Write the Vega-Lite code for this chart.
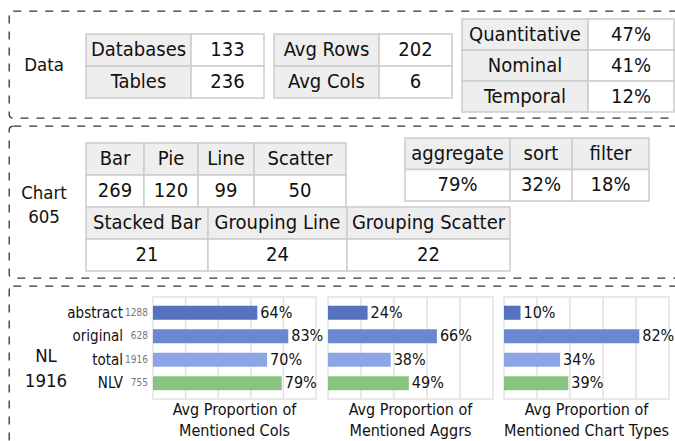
{
  "$schema": "https://vega.github.io/schema/vega-lite/v6.json",
  "padding": {"left": 8, "top": 10, "right": 0, "bottom": 0},
  "config": {
    "font": "DejaVu Sans Condensed",
    "view": {"stroke": "#333333", "strokeWidth": 1.3, "strokeDash": [8, 8], "cornerRadius": 4},
    "text": {"color": "#111111"},
    "rect": {"stroke": "#cccccc", "strokeWidth": 1.5}
  },
  "datasets": {
    "sections": [
      {"section": "Data", "label": "Data"},
      {"section": "Chart", "label": "Chart\n605"},
      {"section": "NL", "label": "NL\n1916"}
    ],
    "dataCounts": [
      {"table": "tables", "label": "Databases", "value": 133},
      {"table": "tables", "label": "Tables", "value": 236},
      {"table": "shape", "label": "Avg Rows", "value": 202},
      {"table": "shape", "label": "Avg Cols", "value": 6}
    ],
    "columnTypes": [
      {"table": "types", "label": "Quantitative", "share": 0.47},
      {"table": "types", "label": "Nominal", "share": 0.41},
      {"table": "types", "label": "Temporal", "share": 0.12}
    ],
    "chartTypes": [
      {"type": "Bar", "count": 269},
      {"type": "Pie", "count": 120},
      {"type": "Line", "count": 99},
      {"type": "Scatter", "count": 50},
      {"type": "Stacked Bar", "count": 21},
      {"type": "Grouping Line", "count": 24},
      {"type": "Grouping Scatter", "count": 22}
    ],
    "operations": [
      {"op": "aggregate", "share": 0.79},
      {"op": "sort", "share": 0.32},
      {"op": "filter", "share": 0.18}
    ],
    "charts": [
      {"metric": "Cols", "title": "Avg Proportion of\nMentioned Cols"},
      {"metric": "Aggrs", "title": "Avg Proportion of\nMentioned Aggrs"},
      {"metric": "Chart Types", "title": "Avg Proportion of\nMentioned Chart Types"}
    ],
    "gridlines": [
      {"tick": 0.2},
      {"tick": 0.4},
      {"tick": 0.6},
      {"tick": 0.8}
    ],
    "nl": [
      {"metric": "Cols", "split": "abstract", "n": 1288, "value": 0.64},
      {"metric": "Cols", "split": "original", "n": 628, "value": 0.83},
      {"metric": "Cols", "split": "total", "n": 1916, "value": 0.70},
      {"metric": "Cols", "split": "NLV", "n": 755, "value": 0.79},
      {"metric": "Aggrs", "split": "abstract", "n": 1288, "value": 0.24},
      {"metric": "Aggrs", "split": "original", "n": 628, "value": 0.66},
      {"metric": "Aggrs", "split": "total", "n": 1916, "value": 0.38},
      {"metric": "Aggrs", "split": "NLV", "n": 755, "value": 0.49},
      {"metric": "Chart Types", "split": "abstract", "n": 1288, "value": 0.10},
      {"metric": "Chart Types", "split": "original", "n": 628, "value": 0.82},
      {"metric": "Chart Types", "split": "total", "n": 1916, "value": 0.34},
      {"metric": "Chart Types", "split": "NLV", "n": 755, "value": 0.39}
    ]
  },
  "spacing": 6,
  "vconcat": [
    {
      "width": 680,
      "height": 107,
      "layer": [
        {
          "data": {"name": "sections"},
          "transform": [{"filter": "datum.section === 'Data'"}],
          "mark": {"type": "text", "fontSize": 18.5, "lineBreak": "\n", "lineHeight": 24},
          "encoding": {
            "x": {"field": "section", "type": "nominal", "axis": null, "scale": {"range": [0, 70]}},
            "y": {"field": "section", "type": "nominal", "axis": null, "scale": {"range": [34, 74]}},
            "text": {"field": "label", "type": "nominal"}
          }
        },
        {
          "data": {"name": "dataCounts"},
          "transform": [{"filter": "datum.table === 'tables'"}],
          "encoding": {"y": {"field": "label", "type": "nominal", "sort": null, "axis": null, "scale": {"range": [23, 87]}}},
          "layer": [
            {
              "encoding": {"x": {"field": "table", "type": "nominal", "axis": null, "scale": {"range": [77, 182]}}},
              "layer": [
                {"mark": {"type": "rect", "fill": "#eeeeee"}},
                {"mark": {"type": "text", "fontSize": 20}, "encoding": {"text": {"field": "label", "type": "nominal"}}}
              ]
            },
            {
              "encoding": {"x": {"field": "table", "type": "nominal", "axis": null, "scale": {"range": [182, 255]}}},
              "layer": [
                {"mark": {"type": "rect", "fill": "#ffffff"}},
                {"mark": {"type": "text", "fontSize": 20}, "encoding": {"text": {"field": "value", "type": "nominal"}}}
              ]
            }
          ],
          "resolve": {"scale": {"x": "independent"}}
        },
        {
          "data": {"name": "dataCounts"},
          "transform": [{"filter": "datum.table === 'shape'"}],
          "encoding": {"y": {"field": "label", "type": "nominal", "sort": null, "axis": null, "scale": {"range": [23, 87]}}},
          "layer": [
            {
              "encoding": {"x": {"field": "table", "type": "nominal", "axis": null, "scale": {"range": [265, 370]}}},
              "layer": [
                {"mark": {"type": "rect", "fill": "#eeeeee"}},
                {"mark": {"type": "text", "fontSize": 20}, "encoding": {"text": {"field": "label", "type": "nominal"}}}
              ]
            },
            {
              "encoding": {"x": {"field": "table", "type": "nominal", "axis": null, "scale": {"range": [370, 443]}}},
              "layer": [
                {"mark": {"type": "rect", "fill": "#ffffff"}},
                {"mark": {"type": "text", "fontSize": 20}, "encoding": {"text": {"field": "value", "type": "nominal"}}}
              ]
            }
          ],
          "resolve": {"scale": {"x": "independent"}}
        },
        {
          "data": {"name": "columnTypes"},
          "encoding": {"y": {"field": "label", "type": "nominal", "sort": null, "axis": null, "scale": {"range": [8, 101]}}},
          "layer": [
            {
              "encoding": {"x": {"field": "table", "type": "nominal", "axis": null, "scale": {"range": [453, 579]}}},
              "layer": [
                {"mark": {"type": "rect", "fill": "#eeeeee"}},
                {"mark": {"type": "text", "fontSize": 20}, "encoding": {"text": {"field": "label", "type": "nominal"}}}
              ]
            },
            {
              "encoding": {"x": {"field": "table", "type": "nominal", "axis": null, "scale": {"range": [579, 665]}}},
              "layer": [
                {"mark": {"type": "rect", "fill": "#ffffff"}},
                {"mark": {"type": "text", "fontSize": 20}, "encoding": {"text": {"field": "share", "type": "quantitative", "format": ".0%"}}}
              ]
            }
          ],
          "resolve": {"scale": {"x": "independent"}}
        }
      ],
      "resolve": {"scale": {"x": "independent", "y": "independent"}}
    },
    {
      "width": 680,
      "height": 152,
      "layer": [
        {
          "data": {"name": "sections"},
          "transform": [{"filter": "datum.section === 'Chart'"}],
          "mark": {"type": "text", "fontSize": 18.5, "lineBreak": "\n", "lineHeight": 24},
          "encoding": {
            "x": {"field": "section", "type": "nominal", "axis": null, "scale": {"range": [0, 70]}},
            "y": {"field": "section", "type": "nominal", "axis": null, "scale": {"range": [47, 87]}},
            "text": {"field": "label", "type": "nominal"}
          }
        },
        {
          "data": {"name": "chartTypes"},
          "layer": [
            {
              "transform": [{"filter": "datum.type === 'Bar'"}],
              "encoding": {"x": {"field": "type", "type": "nominal", "axis": null, "scale": {"range": [77, 135]}}},
              "layer": [
                {"encoding": {"y": {"datum": "name", "type": "nominal", "axis": null, "scale": {"domain": ["name", "count"], "range": [17, 81]}}},
                 "layer": [{"mark": {"type": "rect", "fill": "#eeeeee"}}, {"mark": {"type": "text", "fontSize": 20}, "encoding": {"text": {"field": "type", "type": "nominal"}}}]},
                {"encoding": {"y": {"datum": "count", "type": "nominal", "axis": null, "scale": {"domain": ["name", "count"], "range": [17, 81]}}},
                 "layer": [{"mark": {"type": "rect", "fill": "#ffffff"}}, {"mark": {"type": "text", "fontSize": 20}, "encoding": {"text": {"field": "count", "type": "nominal"}}}]}
              ]
            },
            {
              "transform": [{"filter": "datum.type === 'Pie'"}],
              "encoding": {"x": {"field": "type", "type": "nominal", "axis": null, "scale": {"range": [135, 189]}}},
              "layer": [
                {"encoding": {"y": {"datum": "name", "type": "nominal", "axis": null, "scale": {"domain": ["name", "count"], "range": [17, 81]}}},
                 "layer": [{"mark": {"type": "rect", "fill": "#eeeeee"}}, {"mark": {"type": "text", "fontSize": 20}, "encoding": {"text": {"field": "type", "type": "nominal"}}}]},
                {"encoding": {"y": {"datum": "count", "type": "nominal", "axis": null, "scale": {"domain": ["name", "count"], "range": [17, 81]}}},
                 "layer": [{"mark": {"type": "rect", "fill": "#ffffff"}}, {"mark": {"type": "text", "fontSize": 20}, "encoding": {"text": {"field": "count", "type": "nominal"}}}]}
              ]
            },
            {
              "transform": [{"filter": "datum.type === 'Line'"}],
              "encoding": {"x": {"field": "type", "type": "nominal", "axis": null, "scale": {"range": [189, 245]}}},
              "layer": [
                {"encoding": {"y": {"datum": "name", "type": "nominal", "axis": null, "scale": {"domain": ["name", "count"], "range": [17, 81]}}},
                 "layer": [{"mark": {"type": "rect", "fill": "#eeeeee"}}, {"mark": {"type": "text", "fontSize": 20}, "encoding": {"text": {"field": "type", "type": "nominal"}}}]},
                {"encoding": {"y": {"datum": "count", "type": "nominal", "axis": null, "scale": {"domain": ["name", "count"], "range": [17, 81]}}},
                 "layer": [{"mark": {"type": "rect", "fill": "#ffffff"}}, {"mark": {"type": "text", "fontSize": 20}, "encoding": {"text": {"field": "count", "type": "nominal"}}}]}
              ]
            },
            {
              "transform": [{"filter": "datum.type === 'Scatter'"}],
              "encoding": {"x": {"field": "type", "type": "nominal", "axis": null, "scale": {"range": [245, 337]}}},
              "layer": [
                {"encoding": {"y": {"datum": "name", "type": "nominal", "axis": null, "scale": {"domain": ["name", "count"], "range": [17, 81]}}},
                 "layer": [{"mark": {"type": "rect", "fill": "#eeeeee"}}, {"mark": {"type": "text", "fontSize": 20}, "encoding": {"text": {"field": "type", "type": "nominal"}}}]},
                {"encoding": {"y": {"datum": "count", "type": "nominal", "axis": null, "scale": {"domain": ["name", "count"], "range": [17, 81]}}},
                 "layer": [{"mark": {"type": "rect", "fill": "#ffffff"}}, {"mark": {"type": "text", "fontSize": 20}, "encoding": {"text": {"field": "count", "type": "nominal"}}}]}
              ]
            }
          ],
          "resolve": {"scale": {"x": "independent"}}
        },
        {
          "data": {"name": "chartTypes"},
          "layer": [
            {
              "transform": [{"filter": "datum.type === 'Stacked Bar'"}],
              "encoding": {"x": {"field": "type", "type": "nominal", "axis": null, "scale": {"range": [77, 199]}}},
              "layer": [
                {"encoding": {"y": {"datum": "name", "type": "nominal", "axis": null, "scale": {"domain": ["name", "count"], "range": [81, 145]}}},
                 "layer": [{"mark": {"type": "rect", "fill": "#eeeeee"}}, {"mark": {"type": "text", "fontSize": 20}, "encoding": {"text": {"field": "type", "type": "nominal"}}}]},
                {"encoding": {"y": {"datum": "count", "type": "nominal", "axis": null, "scale": {"domain": ["name", "count"], "range": [81, 145]}}},
                 "layer": [{"mark": {"type": "rect", "fill": "#ffffff"}}, {"mark": {"type": "text", "fontSize": 20}, "encoding": {"text": {"field": "count", "type": "nominal"}}}]}
              ]
            },
            {
              "transform": [{"filter": "datum.type === 'Grouping Line'"}],
              "encoding": {"x": {"field": "type", "type": "nominal", "axis": null, "scale": {"range": [199, 338]}}},
              "layer": [
                {"encoding": {"y": {"datum": "name", "type": "nominal", "axis": null, "scale": {"domain": ["name", "count"], "range": [81, 145]}}},
                 "layer": [{"mark": {"type": "rect", "fill": "#eeeeee"}}, {"mark": {"type": "text", "fontSize": 20}, "encoding": {"text": {"field": "type", "type": "nominal"}}}]},
                {"encoding": {"y": {"datum": "count", "type": "nominal", "axis": null, "scale": {"domain": ["name", "count"], "range": [81, 145]}}},
                 "layer": [{"mark": {"type": "rect", "fill": "#ffffff"}}, {"mark": {"type": "text", "fontSize": 20}, "encoding": {"text": {"field": "count", "type": "nominal"}}}]}
              ]
            },
            {
              "transform": [{"filter": "datum.type === 'Grouping Scatter'"}],
              "encoding": {"x": {"field": "type", "type": "nominal", "axis": null, "scale": {"range": [338, 501]}}},
              "layer": [
                {"encoding": {"y": {"datum": "name", "type": "nominal", "axis": null, "scale": {"domain": ["name", "count"], "range": [81, 145]}}},
                 "layer": [{"mark": {"type": "rect", "fill": "#eeeeee"}}, {"mark": {"type": "text", "fontSize": 20}, "encoding": {"text": {"field": "type", "type": "nominal"}}}]},
                {"encoding": {"y": {"datum": "count", "type": "nominal", "axis": null, "scale": {"domain": ["name", "count"], "range": [81, 145]}}},
                 "layer": [{"mark": {"type": "rect", "fill": "#ffffff"}}, {"mark": {"type": "text", "fontSize": 20}, "encoding": {"text": {"field": "count", "type": "nominal"}}}]}
              ]
            }
          ],
          "resolve": {"scale": {"x": "independent"}}
        },
        {
          "data": {"name": "operations"},
          "layer": [
            {
              "transform": [{"filter": "datum.op === 'aggregate'"}],
              "encoding": {"x": {"field": "op", "type": "nominal", "axis": null, "scale": {"range": [396, 501]}}},
              "layer": [
                {"encoding": {"y": {"datum": "name", "type": "nominal", "axis": null, "scale": {"domain": ["name", "share"], "range": [12, 75]}}},
                 "layer": [{"mark": {"type": "rect", "fill": "#eeeeee"}}, {"mark": {"type": "text", "fontSize": 20}, "encoding": {"text": {"field": "op", "type": "nominal"}}}]},
                {"encoding": {"y": {"datum": "share", "type": "nominal", "axis": null, "scale": {"domain": ["name", "share"], "range": [12, 75]}}},
                 "layer": [{"mark": {"type": "rect", "fill": "#ffffff"}}, {"mark": {"type": "text", "fontSize": 20}, "encoding": {"text": {"field": "share", "type": "quantitative", "format": ".0%"}}}]}
              ]
            },
            {
              "transform": [{"filter": "datum.op === 'sort'"}],
              "encoding": {"x": {"field": "op", "type": "nominal", "axis": null, "scale": {"range": [501, 563]}}},
              "layer": [
                {"encoding": {"y": {"datum": "name", "type": "nominal", "axis": null, "scale": {"domain": ["name", "share"], "range": [12, 75]}}},
                 "layer": [{"mark": {"type": "rect", "fill": "#eeeeee"}}, {"mark": {"type": "text", "fontSize": 20}, "encoding": {"text": {"field": "op", "type": "nominal"}}}]},
                {"encoding": {"y": {"datum": "share", "type": "nominal", "axis": null, "scale": {"domain": ["name", "share"], "range": [12, 75]}}},
                 "layer": [{"mark": {"type": "rect", "fill": "#ffffff"}}, {"mark": {"type": "text", "fontSize": 20}, "encoding": {"text": {"field": "share", "type": "quantitative", "format": ".0%"}}}]}
              ]
            },
            {
              "transform": [{"filter": "datum.op === 'filter'"}],
              "encoding": {"x": {"field": "op", "type": "nominal", "axis": null, "scale": {"range": [563, 640]}}},
              "layer": [
                {"encoding": {"y": {"datum": "name", "type": "nominal", "axis": null, "scale": {"domain": ["name", "share"], "range": [12, 75]}}},
                 "layer": [{"mark": {"type": "rect", "fill": "#eeeeee"}}, {"mark": {"type": "text", "fontSize": 20}, "encoding": {"text": {"field": "op", "type": "nominal"}}}]},
                {"encoding": {"y": {"datum": "share", "type": "nominal", "axis": null, "scale": {"domain": ["name", "share"], "range": [12, 75]}}},
                 "layer": [{"mark": {"type": "rect", "fill": "#ffffff"}}, {"mark": {"type": "text", "fontSize": 20}, "encoding": {"text": {"field": "share", "type": "quantitative", "format": ".0%"}}}]}
              ]
            }
          ],
          "resolve": {"scale": {"x": "independent"}}
        }
      ],
      "resolve": {"scale": {"x": "independent", "y": "independent"}}
    },
    {
      "width": 680,
      "height": 170,
      "layer": [
        {
          "data": {"name": "sections"},
          "transform": [{"filter": "datum.section === 'NL'"}],
          "mark": {"type": "text", "fontSize": 18.5, "lineBreak": "\n", "lineHeight": 25},
          "encoding": {
            "x": {"field": "section", "type": "nominal", "axis": null, "scale": {"range": [0, 74]}},
            "y": {"field": "section", "type": "nominal", "axis": null, "scale": {"range": [50, 90]}},
            "text": {"field": "label", "type": "nominal"}
          }
        },
        {
          "layer": [
            {
              "data": {"name": "charts"},
              "transform": [{"filter": "datum.metric === 'Cols'"}],
              "encoding": {"y": {"field": "metric", "type": "nominal", "axis": null, "scale": {"range": [11, 113]}}},
              "layer": [
                {
                  "mark": {"type": "rect", "fill": "transparent", "stroke": "#e2e2e2", "strokeWidth": 1.5},
                  "encoding": {
                    "x": {"datum": 0, "type": "quantitative", "axis": null, "scale": {"domain": [0, 1], "range": [144, 307], "nice": false}},
                    "x2": {"datum": 1}
                  }
                },
                {
                  "data": {"name": "gridlines"},
                  "mark": {"type": "tick", "size": 102, "thickness": 1.5, "color": "#e2e2e2", "opacity": 1},
                  "encoding": {
                    "x": {"field": "tick", "type": "quantitative", "axis": null},
                    "y": {"datum": "Cols", "type": "nominal", "axis": null}
                  }
                },
                {
                  "mark": {"type": "text", "baseline": "top", "fontSize": 16, "lineBreak": "\n", "lineHeight": 21, "dy": 3},
                  "encoding": {
                    "x": {"datum": 0.5, "type": "quantitative", "axis": null},
                    "y": {"field": "metric", "type": "nominal", "axis": null, "bandPosition": 1},
                    "text": {"field": "title", "type": "nominal"}
                  }
                }
              ]
            },
            {
              "data": {"name": "nl"},
              "transform": [{"filter": "datum.metric === 'Cols'"}],
              "encoding": {"y": {"field": "split", "type": "nominal", "sort": null, "axis": null, "scale": {"domain": ["abstract", "original", "total", "NLV"], "range": [11, 113], "paddingInner": 0.4, "paddingOuter": 0.37}}},
              "layer": [
                {
                  "mark": {"type": "bar"},
                  "encoding": {
                    "x": {"field": "value", "type": "quantitative", "axis": null},
                    "color": {"field": "split", "type": "nominal", "scale": {"domain": ["abstract", "original", "total", "NLV"], "range": ["#5572be", "#6a88d0", "#8ca5e5", "#88c47f"]}, "legend": null}
                  }
                },
                {
                  "mark": {"type": "text", "align": "left", "baseline": "middle", "dx": 3, "fontSize": 16},
                  "encoding": {
                    "x": {"field": "value", "type": "quantitative", "axis": null},
                    "text": {"field": "value", "type": "quantitative", "format": ".0%"}
                  }
                },
                {
                  "mark": {"type": "text", "align": "right", "baseline": "middle", "dx": -30, "fontSize": 15},
                  "encoding": {"x": {"datum": 0, "type": "quantitative", "axis": null}, "text": {"field": "split", "type": "nominal"}}
                },
                {
                  "mark": {"type": "text", "align": "right", "baseline": "middle", "dx": -5, "fontSize": 10, "color": "#777777"},
                  "encoding": {"x": {"datum": 0, "type": "quantitative", "axis": null}, "text": {"field": "n", "type": "nominal"}}
                }
              ]
            }
          ],
          "resolve": {"scale": {"y": "independent"}}
        },
        {
          "layer": [
            {
              "data": {"name": "charts"},
              "transform": [{"filter": "datum.metric === 'Aggrs'"}],
              "encoding": {"y": {"field": "metric", "type": "nominal", "axis": null, "scale": {"range": [11, 113]}}},
              "layer": [
                {
                  "mark": {"type": "rect", "fill": "transparent", "stroke": "#e2e2e2", "strokeWidth": 1.5},
                  "encoding": {
                    "x": {"datum": 0, "type": "quantitative", "axis": null, "scale": {"domain": [0, 1], "range": [319, 484], "nice": false}},
                    "x2": {"datum": 1}
                  }
                },
                {
                  "data": {"name": "gridlines"},
                  "mark": {"type": "tick", "size": 102, "thickness": 1.5, "color": "#e2e2e2", "opacity": 1},
                  "encoding": {
                    "x": {"field": "tick", "type": "quantitative", "axis": null},
                    "y": {"datum": "Aggrs", "type": "nominal", "axis": null}
                  }
                },
                {
                  "mark": {"type": "text", "baseline": "top", "fontSize": 16, "lineBreak": "\n", "lineHeight": 21, "dy": 3},
                  "encoding": {
                    "x": {"datum": 0.5, "type": "quantitative", "axis": null},
                    "y": {"field": "metric", "type": "nominal", "axis": null, "bandPosition": 1},
                    "text": {"field": "title", "type": "nominal"}
                  }
                }
              ]
            },
            {
              "data": {"name": "nl"},
              "transform": [{"filter": "datum.metric === 'Aggrs'"}],
              "encoding": {"y": {"field": "split", "type": "nominal", "sort": null, "axis": null, "scale": {"domain": ["abstract", "original", "total", "NLV"], "range": [11, 113], "paddingInner": 0.4, "paddingOuter": 0.37}}},
              "layer": [
                {
                  "mark": {"type": "bar"},
                  "encoding": {
                    "x": {"field": "value", "type": "quantitative", "axis": null},
                    "color": {"field": "split", "type": "nominal", "legend": null}
                  }
                },
                {
                  "mark": {"type": "text", "align": "left", "baseline": "middle", "dx": 3, "fontSize": 16},
                  "encoding": {
                    "x": {"field": "value", "type": "quantitative", "axis": null},
                    "text": {"field": "value", "type": "quantitative", "format": ".0%"}
                  }
                }
              ]
            }
          ],
          "resolve": {"scale": {"y": "independent"}}
        },
        {
          "layer": [
            {
              "data": {"name": "charts"},
              "transform": [{"filter": "datum.metric === 'Chart Types'"}],
              "encoding": {"y": {"field": "metric", "type": "nominal", "axis": null, "scale": {"range": [11, 113]}}},
              "layer": [
                {
                  "mark": {"type": "rect", "fill": "transparent", "stroke": "#e2e2e2", "strokeWidth": 1.5},
                  "encoding": {
                    "x": {"datum": 0, "type": "quantitative", "axis": null, "scale": {"domain": [0, 1], "range": [495, 660], "nice": false}},
                    "x2": {"datum": 1}
                  }
                },
                {
                  "data": {"name": "gridlines"},
                  "mark": {"type": "tick", "size": 102, "thickness": 1.5, "color": "#e2e2e2", "opacity": 1},
                  "encoding": {
                    "x": {"field": "tick", "type": "quantitative", "axis": null},
                    "y": {"datum": "Chart Types", "type": "nominal", "axis": null}
                  }
                },
                {
                  "mark": {"type": "text", "baseline": "top", "fontSize": 16, "lineBreak": "\n", "lineHeight": 21, "dy": 3},
                  "encoding": {
                    "x": {"datum": 0.5, "type": "quantitative", "axis": null},
                    "y": {"field": "metric", "type": "nominal", "axis": null, "bandPosition": 1},
                    "text": {"field": "title", "type": "nominal"}
                  }
                }
              ]
            },
            {
              "data": {"name": "nl"},
              "transform": [{"filter": "datum.metric === 'Chart Types'"}],
              "encoding": {"y": {"field": "split", "type": "nominal", "sort": null, "axis": null, "scale": {"domain": ["abstract", "original", "total", "NLV"], "range": [11, 113], "paddingInner": 0.4, "paddingOuter": 0.37}}},
              "layer": [
                {
                  "mark": {"type": "bar"},
                  "encoding": {
                    "x": {"field": "value", "type": "quantitative", "axis": null},
                    "color": {"field": "split", "type": "nominal", "legend": null}
                  }
                },
                {
                  "mark": {"type": "text", "align": "left", "baseline": "middle", "dx": 3, "fontSize": 16},
                  "encoding": {
                    "x": {"field": "value", "type": "quantitative", "axis": null},
                    "text": {"field": "value", "type": "quantitative", "format": ".0%"}
                  }
                }
              ]
            }
          ],
          "resolve": {"scale": {"y": "independent"}}
        }
      ],
      "resolve": {"scale": {"x": "independent", "y": "independent"}}
    }
  ]
}
